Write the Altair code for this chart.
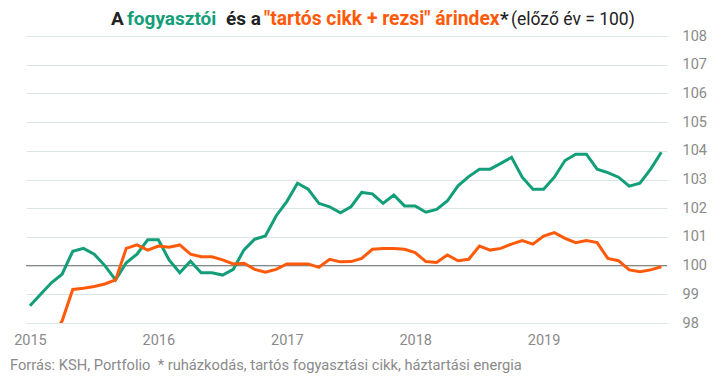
import altair as alt
import pandas as pd

years = [2015, 2016, 2017, 2018, 2019]
months = list(range(60))

fogyasztoi = [
    98.6, 99.0, 99.4, 99.7, 100.5, 100.6, 100.4, 100.0, 99.5, 100.1, 100.4, 100.9,
    100.9, 100.2, 99.75, 100.15, 99.75, 99.75, 99.67, 99.87, 100.55, 100.92, 101.03, 101.73,
    102.23, 102.87, 102.66, 102.17, 102.05, 101.84, 102.05, 102.55, 102.5, 102.17, 102.46, 102.08,
    102.08, 101.86, 101.96, 102.25, 102.78, 103.1, 103.36, 103.36, 103.56, 103.77, 103.08, 102.66,
    102.66, 103.08, 103.66, 103.88, 103.88, 103.36, 103.24, 103.08, 102.77, 102.87, 103.36, 103.95,
]
tartos_rezsi = [
    97.0, 97.2, 97.45, 98.07, 99.17, 99.21, 99.27, 99.36, 99.5, 100.6, 100.72, 100.54,
    100.68, 100.64, 100.72, 100.4, 100.31, 100.31, 100.2, 100.06, 100.08, 99.87, 99.77, 99.87,
    100.06, 100.06, 100.06, 99.94, 100.22, 100.13, 100.14, 100.25, 100.57, 100.6, 100.6, 100.57,
    100.45, 100.14, 100.11, 100.37, 100.17, 100.22, 100.68, 100.54, 100.6, 100.75, 100.87, 100.75,
    101.03, 101.15, 100.95, 100.8, 100.87, 100.8, 100.25, 100.17, 99.85, 99.79, 99.85, 99.96,
]
baseline = [100]
y_ticks = list(range(98, 109))
x_ticks = [0, 12, 24, 36, 48]

GREEN = "#119e79"
ORANGE = "#ff5a0a"
FONT = "Roboto"

df = pd.DataFrame({
    "i": months * 2,
    "v": fogyasztoi + tartos_rezsi,
    "s": ["fogyasztói"] * 60 + ["tartós cikk + rezsi"] * 60,
})

xscale = alt.Scale(domain=[-0.37, 59.53], nice=False, zero=False)
yscale = alt.Scale(domain=[98, 108], nice=False, zero=False)

xaxis = alt.Axis(
    values=x_ticks, labelExpr="toString(2015 + round(datum.value/12))",
    grid=False, domain=False, ticks=False, labelPadding=10,
    labelFont=FONT, labelFontSize=14.5, labelColor="#8a8a8a", title=None)
yaxis = alt.Axis(
    values=y_ticks, orient="right", grid=True, gridColor="#dbe5e2",
    domain=False, ticks=False, labelPadding=15, labelFont=FONT,
    labelOverlap=False, labelFontSize=14.5, labelColor="#8a8a8a", title=None)

lines = alt.Chart(df).mark_line(strokeWidth=3, clip=True).encode(
    x=alt.X("i:Q", scale=xscale, axis=xaxis),
    y=alt.Y("v:Q", scale=yscale, axis=yaxis),
    color=alt.Color("s:N", scale=alt.Scale(domain=["fogyasztói", "tartós cikk + rezsi"],
                                           range=[GREEN, ORANGE]), legend=None),
)

rule = alt.Chart(pd.DataFrame({"v": baseline})).mark_rule(
    color="#7a7a7a", strokeWidth=1).encode(
    y=alt.Y("v:Q", scale=yscale, axis=yaxis)
)

title_parts = [
    ("A", "#222222", "bold", 19, 85),
    ("fogyasztói", GREEN, "bold", 19, 101),
    ("és a", "#222222", "bold", 19, 200),
    ("\"tartós cikk + rezsi\" árindex", ORANGE, "bold", 19.3, 238),
    ("*", "#222222", "bold", 19, 474),
    ("(előző év = 100)", "#222222", "normal", 17.5, 485),
]
one = pd.DataFrame({"a": [0]})
texts = []
for txt, col, wt, fs, px in title_parts:
    texts.append(alt.Chart(one).mark_text(
        text=txt, color=col, fontWeight=wt, font=FONT, fontSize=fs,
        align="left", baseline="alphabetic").encode(x=alt.value(px), y=alt.value(-11.3)))

footer = alt.Chart(one).mark_text(
    text="Forrás: KSH, Portfolio\u00a0\u00a0* ruházkodás, tartós fogyasztási cikk, háztartási energia",
    color="#8a8a8a", font=FONT, fontSize=14.7, align="left", baseline="middle",
).encode(x=alt.value(-16), y=alt.value(330))

chart = alt.layer(rule, lines, *texts, footer).properties(
    width=641, height=287,
    autosize=alt.AutoSizeParams(type="none"),
    padding={"left": 18, "top": 28, "right": 41, "bottom": 53},
).configure_view(stroke=None)

chart.save("out.html", embed_options={"renderer": "svg", "actions": False})
